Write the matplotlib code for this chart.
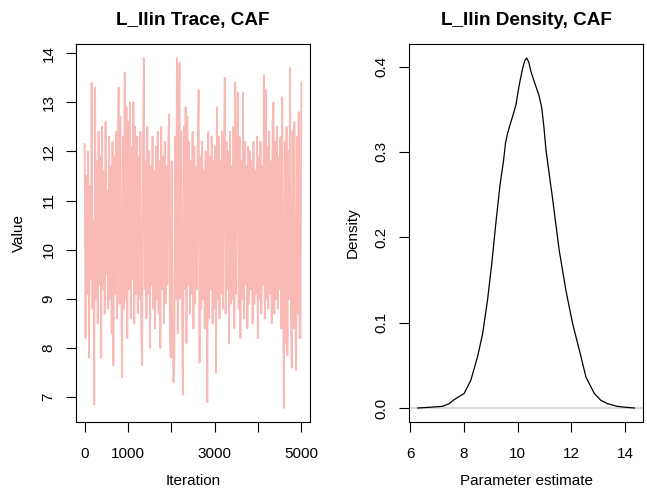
import numpy as np
import matplotlib
matplotlib.use("Agg")
import matplotlib.pyplot as plt

plt.rcParams['font.family'] = ['Liberation Sans', 'DejaVu Sans']

trace_values = [
    12.15, 8.2, 11.5, 9.1, 12.0, 7.8, 11.3, 9.4, 13.4, 8.8,
    10.6, 6.85, 13.3, 9.0, 11.8, 8.5, 12.4, 9.3, 11.9, 7.8,
    12.5, 9.2, 11.6, 8.7, 12.6, 9.5, 11.2, 8.8, 12.3, 9.0,
    11.7, 8.3, 12.2, 7.65, 11.9, 9.1, 12.4, 8.6, 11.5, 13.3,
    8.9, 12.7, 9.3, 7.4, 12.3, 8.8, 13.6, 9.0, 12.9, 8.2,
    12.6, 9.2, 13.0, 8.6, 12.1, 9.4, 13.0, 8.5, 12.5, 9.1,
    12.3, 8.7, 11.9, 9.0, 12.4, 8.3, 7.65, 12.1, 13.9, 9.2,
    11.8, 8.6, 12.5, 9.1, 12.0, 8.0, 11.7, 9.3, 12.3, 8.8,
    11.6, 8.4, 12.1, 9.0, 12.4, 8.7, 11.8, 8.0, 12.5, 9.2,
    11.9, 8.5, 12.2, 8.9, 11.7, 9.3, 12.0, 12.75, 8.2, 7.8,
    11.8, 8.6, 7.3, 7.75, 12.3, 9.0, 13.9, 8.3, 12.0, 13.8,
    9.0, 12.4, 8.5, 7.05, 12.5, 9.2, 12.9, 8.1, 12.7, 9.3,
    12.2, 8.7, 11.8, 9.1, 12.4, 8.4, 12.1, 8.9, 11.7, 9.2,
    12.2, 13.25, 7.7, 11.9, 8.8, 12.2, 9.0, 11.6, 8.4, 12.0,
    9.1, 6.9, 12.4, 8.6, 11.9, 9.2, 12.3, 8.5, 11.8, 8.8,
    12.1, 7.5, 12.9, 9.0, 12.3, 8.6, 11.8, 9.1, 12.4, 8.8,
    11.9, 13.5, 8.7, 12.2, 9.2, 12.0, 8.1, 12.4, 8.9, 11.7,
    9.0, 12.5, 8.4, 13.4, 9.1, 12.0, 13.2, 8.8, 12.3, 8.2,
    11.8, 9.0, 13.2, 8.6, 12.2, 9.3, 11.7, 8.4, 12.1, 8.9,
    12.0, 9.2, 11.8, 8.5, 12.2, 8.9, 11.6, 9.1, 12.3, 8.2,
    11.9, 9.0, 12.2, 8.7, 11.7, 9.3, 13.55, 8.6, 13.25, 9.0,
    12.1, 8.8, 12.4, 9.1, 11.8, 8.5, 12.6, 13.0, 8.7, 12.2,
    9.0, 12.5, 8.8, 11.9, 9.2, 12.3, 8.4, 13.1, 8.9, 6.78,
    12.2, 8.1, 12.5, 7.85, 12.0, 9.0, 13.7, 8.6, 7.6, 12.4,
    8.4, 12.6, 8.9, 7.55, 12.3, 8.7, 12.8, 8.2, 8.2, 13.4,
]
n_iter = 5000
iterations = np.linspace(1, n_iter, len(trace_values))

# Density curve
density_x = [6.28, 6.8, 7.21, 7.45, 7.64, 8.01, 8.26, 8.51, 8.70, 8.88,
             9.05, 9.19, 9.35, 9.48, 9.55, 9.63, 9.81, 9.94, 10.06, 10.19,
             10.27, 10.34, 10.42, 10.5, 10.68, 10.80, 10.90, 10.98, 11.06, 11.31,
             11.55, 11.80, 12.05, 12.30, 12.55, 12.86, 13.1, 13.36, 13.7, 13.98, 14.35]
density_y = [0.0, 0.001, 0.002, 0.005, 0.0098, 0.017, 0.0325, 0.060, 0.087, 0.126,
             0.172, 0.216, 0.262, 0.290, 0.310, 0.322, 0.341, 0.355, 0.378, 0.398,
             0.407, 0.410, 0.405, 0.394, 0.377, 0.366, 0.352, 0.330, 0.302, 0.244,
             0.185, 0.138, 0.099, 0.068, 0.036, 0.017, 0.009, 0.005, 0.002, 0.001, 0.0]

trace_xticks = [0, 1000, 2000, 3000, 4000, 5000]
trace_xticklabels = ['0', '1000', '', '3000', '', '5000']
trace_yticks = [7, 8, 9, 10, 11, 12, 13, 14]
dens_xticks = [6, 8, 10, 12, 14]
dens_yticks = [0.0, 0.1, 0.2, 0.3, 0.4]

W, H = 647, 492
fig = plt.figure(figsize=(W / 100, H / 100), dpi=100)

def box(l, r, t, b):
    return [l / W, 1 - b / H, (r - l) / W, (b - t) / H]

ax1 = fig.add_axes(box(76, 310, 44, 422))
ax2 = fig.add_axes(box(409, 643, 44, 422))

tick_fs = 11
label_fs = 11
title_fs = 13.6

# Trace
ax1.plot(iterations, trace_values, color='#F9BAB5', lw=1.3)
lo, hi = min(trace_values), max(trace_values)
pad = 0.04 * (hi - lo)
ax1.set_ylim(lo - pad, hi + pad)
xpad = 0.04 * (n_iter - 1)
ax1.set_xlim(1 - xpad, n_iter + xpad)
ax1.set_xticks(trace_xticks)
ax1.set_xticklabels(trace_xticklabels)
ax1.set_yticks(trace_yticks)
ax1.set_yticklabels([str(v) for v in trace_yticks], rotation=90, va='center')
ax1.set_title('L_Ilin Trace, CAF', fontsize=title_fs, fontweight='bold', pad=14)
ax1.set_xlabel('Iteration', fontsize=label_fs, labelpad=10)
ax1.set_ylabel('Value', fontsize=label_fs, labelpad=11)

# Density
ax2.plot(density_x, density_y, color='black', lw=0.9)
ax2.axhline(0, color='#D3D3D3', lw=1.2, zorder=0)
dlo, dhi = min(density_x), max(density_x)
dpad = 0.04 * (dhi - dlo)
ax2.set_xlim(dlo - dpad, dhi + dpad)
ymax = max(density_y)
ax2.set_ylim(-0.04 * ymax, ymax * 1.04)
ax2.set_xticks(dens_xticks)
ax2.set_yticks(dens_yticks)
ax2.set_yticklabels([f'{v:.1f}' for v in dens_yticks], rotation=90, va='center')
ax2.set_title('L_Ilin Density, CAF', fontsize=title_fs, fontweight='bold', pad=14)
ax2.set_xlabel('Parameter estimate', fontsize=label_fs, labelpad=10)
ax2.set_ylabel('Density', fontsize=label_fs, labelpad=11)

for ax in (ax1, ax2):
    ax.tick_params(axis='both', length=7.2, width=0.8, labelsize=tick_fs,
                   direction='out', color='black')
    ax.tick_params(axis='x', pad=10.5)
    ax.tick_params(axis='y', pad=7.5)
    for s in ax.spines.values():
        s.set_linewidth(0.8)
        s.set_color('black')

fig.savefig('out.png', dpi=100)
